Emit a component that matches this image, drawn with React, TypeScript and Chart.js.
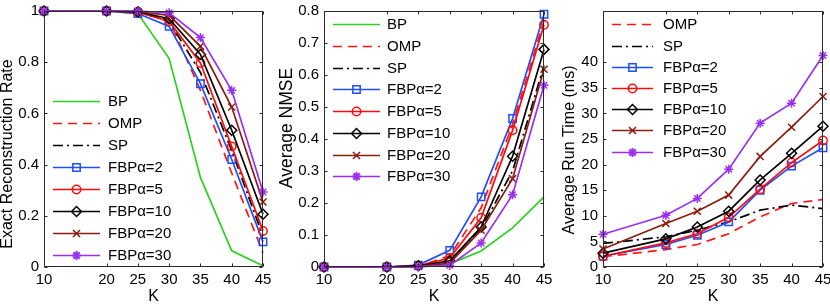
import React, { useEffect, useRef } from "react";
import { Chart, registerables } from "chart.js";
Chart.register(...registerables);

// ---------- data ----------
const kValues = [10, 20, 25, 30, 35, 40, 45];
const xTickValues = [10, 20, 25, 30, 35, 40, 45];

const rateBP = [1, 1, 0.99, 0.814, 0.35, 0.063, 0.005];
const rateOMP = [1, 1, 0.995, 0.965, 0.69, 0.367, 0.055];
const rateSP = [1, 1, 0.997, 0.96, 0.76, 0.455, 0.12];
const rateA2 = [1, 1, 0.99, 0.94, 0.716, 0.42, 0.098];
const rateA5 = [1, 1, 0.995, 0.96, 0.797, 0.471, 0.141];
const rateA10 = [1, 1, 0.997, 0.97, 0.83, 0.534, 0.206];
const rateA20 = [1, 1, 0.998, 0.983, 0.862, 0.625, 0.254];
const rateA30 = [1, 1, 1, 0.993, 0.896, 0.69, 0.293];

const nmseBP = [0, 0, 0, 0.01, 0.05, 0.122, 0.219];
const nmseOMP = [0, 0, 0.002, 0.035, 0.185, 0.445, 0.77];
const nmseSP = [0, 0, 0.002, 0.018, 0.12, 0.3, 0.63];
const nmseA2 = [0, 0, 0.006, 0.052, 0.219, 0.464, 0.79];
const nmseA5 = [0, 0, 0.004, 0.028, 0.154, 0.427, 0.757];
const nmseA10 = [0, 0, 0.004, 0.019, 0.125, 0.346, 0.68];
const nmseA20 = [0, 0, 0.002, 0.012, 0.115, 0.276, 0.618];
const nmseA30 = [0, 0, 0.001, 0.005, 0.075, 0.226, 0.568];

const timeOMP = [2.0, 3.4, 4.4, 6.5, 9.8, 12.4, 13.2];
const timeSP = [4.6, 5.9, 7.2, 8.8, 11.1, 12.1, 11.4];
const timeA2 = [2.1, 4.4, 6.2, 8.8, 15.0, 19.7, 23.3];
const timeA5 = [2.1, 4.7, 6.5, 9.7, 15.2, 20.4, 24.7];
const timeA10 = [2.7, 5.5, 7.8, 10.9, 17.0, 22.2, 27.5];
const timeA20 = [3.5, 8.5, 10.9, 14.05, 21.6, 27.3, 33.3];
const timeA30 = [6.4, 10.1, 13.4, 19.1, 28.1, 32.0, 41.3];

const rateTicks = [0, 0.2, 0.4, 0.6, 0.8, 1];
const nmseTicks = [0, 0.1, 0.2, 0.3, 0.4, 0.5, 0.6, 0.7, 0.8];
const timeTicks = [0, 5, 10, 15, 20, 25, 30, 35, 40];

// ---------- styles ----------
type Sty = { label: string; color: string; dash: number[]; marker: string | null; radius: number };
const S: Record<string, Sty> = {
  BP: { label: "BP", color: "#2bd11f", dash: [], marker: null, radius: 0 },
  OMP: { label: "OMP", color: "#ff1414", dash: [9, 6], marker: null, radius: 0 },
  SP: { label: "SP", color: "#000000", dash: [10, 4, 2, 4], marker: null, radius: 0 },
  A2: { label: "FBPα=2", color: "#1f4dff", dash: [], marker: "rect", radius: 5.2 },
  A5: { label: "FBPα=5", color: "#ff0a0a", dash: [], marker: "circle", radius: 4.2 },
  A10: { label: "FBPα=10", color: "#000000", dash: [], marker: "rectRot", radius: 5 },
  A20: { label: "FBPα=20", color: "#8b1c0e", dash: [], marker: "crossRot", radius: 5 },
  A30: { label: "FBPα=30", color: "#9a2ff0", dash: [], marker: "star", radius: 4.5 },
};

const FONT = '"Liberation Sans", Arial, Helvetica, sans-serif';
const LW = 1.7;

function drawMarker(ctx: CanvasRenderingContext2D, m: string, x: number, y: number, r: number) {
  ctx.beginPath();
  if (m === "rect") {
    const s = r * Math.SQRT1_2;
    ctx.rect(x - s, y - s, 2 * s, 2 * s);
  } else if (m === "circle") {
    ctx.arc(x, y, r, 0, Math.PI * 2);
  } else if (m === "rectRot") {
    ctx.moveTo(x - r, y);
    ctx.lineTo(x, y - r);
    ctx.lineTo(x + r, y);
    ctx.lineTo(x, y + r);
    ctx.closePath();
  } else if (m === "crossRot" || m === "star") {
    const s = r * Math.SQRT1_2;
    ctx.moveTo(x - s, y - s);
    ctx.lineTo(x + s, y + s);
    ctx.moveTo(x - s, y + s);
    ctx.lineTo(x + s, y - s);
    if (m === "star") {
      ctx.moveTo(x, y - r);
      ctx.lineTo(x, y + r);
      ctx.moveTo(x - r, y);
      ctx.lineTo(x + r, y);
    }
  }
  ctx.stroke();
}

type PanelCfg = {
  left: number;
  width: number;
  yWidth: number;
  rightPad: number;
  yMin: number;
  yMax: number;
  yTicks: number[];
  yTitle: string;
  yTitleSize: number;
  yTitleCenter: number;
  series: { key: string; data: number[] }[];
  legend: { x0: number; x1: number; tx: number; y0: number; dy: number };
};

const panels: PanelCfg[] = [
  {
    left: 0, width: 279, yWidth: 44, rightPad: 16, yMin: 0, yMax: 1, yTicks: rateTicks,
    yTitle: "Exact Reconstruction Rate", yTitleSize: 16, yTitleCenter: 154,
    series: [
      { key: "BP", data: rateBP }, { key: "OMP", data: rateOMP }, { key: "SP", data: rateSP },
      { key: "A2", data: rateA2 }, { key: "A5", data: rateA5 }, { key: "A10", data: rateA10 },
      { key: "A20", data: rateA20 }, { key: "A30", data: rateA30 },
    ],
    legend: { x0: 53, x1: 100, tx: 108, y0: 100.5, dy: 22 },
  },
  {
    left: 279, width: 283, yWidth: 45, rightPad: 18, yMin: 0, yMax: 0.8, yTicks: nmseTicks,
    yTitle: "Average NMSE", yTitleSize: 17.5, yTitleCenter: 128,
    series: [
      { key: "BP", data: nmseBP }, { key: "OMP", data: nmseOMP }, { key: "SP", data: nmseSP },
      { key: "A2", data: nmseA2 }, { key: "A5", data: nmseA5 }, { key: "A10", data: nmseA10 },
      { key: "A20", data: nmseA20 }, { key: "A30", data: nmseA30 },
    ],
    legend: { x0: 54, x1: 101, tx: 108, y0: 24.3, dy: 21.7 },
  },
  {
    left: 562, width: 268, yWidth: 41, rightPad: 7, yMin: 0, yMax: 50, yTicks: timeTicks,
    yTitle: "Average Run Time (ms)", yTitleSize: 16, yTitleCenter: 150,
    series: [
      { key: "OMP", data: timeOMP }, { key: "SP", data: timeSP },
      { key: "A2", data: timeA2 }, { key: "A5", data: timeA5 }, { key: "A10", data: timeA10 },
      { key: "A20", data: timeA20 }, { key: "A30", data: timeA30 },
    ],
    legend: { x0: 50, x1: 91, tx: 101, y0: 24.3, dy: 21.2 },
  },
];

function Panel({ cfg }: { cfg: PanelCfg }) {
  const ref = useRef<HTMLCanvasElement | null>(null);
  useEffect(() => {
    if (!ref.current) return;
    const datasets = cfg.series.map((s, i) => {
      const st = S[s.key];
      return {
        label: st.label,
        data: s.data.map((v, j) => ({ x: kValues[j], y: v })),
        borderColor: st.color,
        backgroundColor: st.color,
        borderWidth: LW,
        borderDash: st.dash,
        pointStyle: (st.marker || false) as any,
        pointRadius: st.marker ? st.radius : 0,
        pointBorderColor: st.color,
        pointBackgroundColor: "rgba(0,0,0,0)",
        pointBorderWidth: st.key === "A30" ? 2 : 1.5,
        tension: 0,
        clip: false as any,
        order: cfg.series.length - i,
      };
    });

    const framePlugin = {
      id: "frame",
      afterDraw(chart: any) {
        const { ctx, chartArea: a, scales } = chart;
        ctx.save();
        ctx.strokeStyle = "#2a2a2a";
        ctx.lineWidth = 1;
        ctx.setLineDash([]);
        const L = Math.round(a.left) + 0.5, R = Math.round(a.right) - 0.5;
        const T = Math.round(a.top) + 0.5, B = Math.round(a.bottom) - 0.5;
        ctx.strokeRect(L, T, R - L, B - T);
        const tl = 3;
        ctx.beginPath();
        scales.x.ticks.forEach((t: any) => {
          const px = Math.round(scales.x.getPixelForValue(t.value)) + 0.5;
          ctx.moveTo(px, B); ctx.lineTo(px, B - tl);
          ctx.moveTo(px, T); ctx.lineTo(px, T + tl);
        });
        scales.y.ticks.forEach((t: any) => {
          const py = Math.round(scales.y.getPixelForValue(t.value)) + 0.5;
          ctx.moveTo(L, py); ctx.lineTo(L + tl, py);
          ctx.moveTo(R, py); ctx.lineTo(R - tl, py);
        });
        ctx.stroke();

        // y-axis title
        ctx.save();
        ctx.translate(8, cfg.yTitleCenter);
        ctx.rotate(-Math.PI / 2);
        ctx.font = `${cfg.yTitleSize}px ${FONT}`;
        ctx.fillStyle = "#000";
        ctx.textAlign = "center";
        ctx.textBaseline = "middle";
        ctx.fillText(cfg.yTitle, 0, 0);
        ctx.restore();

        // legend
        const lg = cfg.legend;
        ctx.font = `15px ${FONT}`;
        ctx.textBaseline = "middle";
        ctx.textAlign = "left";
        cfg.series.forEach((s, i) => {
          const st = S[s.key];
          const y = Math.round(lg.y0 + i * lg.dy) + 0.5;
          ctx.strokeStyle = st.color;
          ctx.lineWidth = LW;
          ctx.setLineDash(st.dash);
          ctx.beginPath();
          ctx.moveTo(lg.x0, y);
          ctx.lineTo(lg.x1, y);
          ctx.stroke();
          ctx.setLineDash([]);
          if (st.marker) {
            ctx.lineWidth = s.key === "A30" ? 2 : 1.5;
            drawMarker(ctx, st.marker, (lg.x0 + lg.x1) / 2, y, st.radius);
          }
          ctx.fillStyle = "#000";
          ctx.fillText(st.label, lg.tx, y);
        });
        ctx.restore();
      },
    };

    const chart = new Chart(ref.current, {
      type: "line",
      data: { datasets: datasets as any },
      options: {
        animation: false,
        responsive: false,
        events: [],
        layout: { padding: { top: 11, right: cfg.rightPad, left: 0, bottom: 0 } },
        plugins: { legend: { display: false }, tooltip: { enabled: false } },
        scales: {
          x: {
            type: "linear",
            min: 10,
            max: 45,
            afterBuildTicks: (s: any) => { s.ticks = xTickValues.map((v) => ({ value: v })); },
            afterFit: (s: any) => { s.height = 41; s.paddingLeft = 0; s.paddingRight = 0; },
            grid: { display: false, drawTicks: false },
            border: { display: false },
            ticks: { font: { family: FONT, size: 15 }, color: "#000", padding: 4, maxRotation: 0, autoSkip: false },
            title: {
              display: true, text: "K", color: "#000",
              font: { family: FONT, size: 16, lineHeight: 1 },
              padding: { top: 0, bottom: 3 },
            },
          },
          y: {
            type: "linear",
            min: cfg.yMin,
            max: cfg.yMax,
            afterBuildTicks: (s: any) => { s.ticks = cfg.yTicks.map((v) => ({ value: v })); },
            afterFit: (s: any) => { s.width = cfg.yWidth; s.paddingTop = 0; s.paddingBottom = 0; },
            grid: { display: false, drawTicks: false },
            border: { display: false },
            ticks: {
              font: { family: FONT, size: 15 }, color: "#000", padding: 5, autoSkip: false,
              callback: (v: any) => String(Math.round(Number(v) * 100) / 100),
            },
            title: { display: false },
          },
        },
      },
      plugins: [framePlugin],
    });
    return () => chart.destroy();
  }, [cfg]);
  return (
    <div style={{ position: "absolute", left: cfg.left, top: 0, width: cfg.width, height: 308 }}>
      <canvas ref={ref} width={cfg.width} height={308} style={{ display: "block" }} />
    </div>
  );
}

export default function App() {
  return (
    <div style={{ position: "absolute", left: 0, top: 0, width: 830, height: 308, background: "#fff", overflow: "hidden" }}>
      {panels.map((p, i) => (
        <Panel key={i} cfg={p} />
      ))}
    </div>
  );
}
